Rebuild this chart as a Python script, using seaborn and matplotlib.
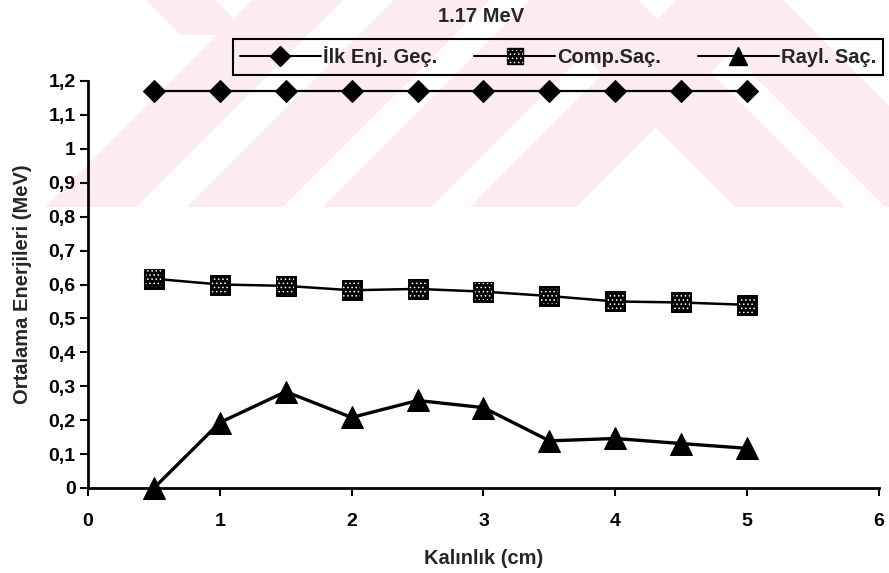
import matplotlib
matplotlib.use("Agg")
import matplotlib.pyplot as plt
from matplotlib.patches import Polygon, Rectangle
from matplotlib.lines import Line2D
from matplotlib.legend_handler import HandlerTuple
import seaborn as sns
import pandas as pd

# Thickness values (cm) and mean energies (MeV)
kalinlik = [0.5, 1.0, 1.5, 2.0, 2.5, 3.0, 3.5, 4.0, 4.5, 5.0]
ilk_enj = [1.17, 1.17, 1.17, 1.17, 1.17, 1.17, 1.17, 1.17, 1.17, 1.17]
comp_sac = [0.617, 0.600, 0.596, 0.583, 0.587, 0.579, 0.566, 0.550, 0.547, 0.540]
rayl_sac = [0.0, 0.193, 0.284, 0.208, 0.258, 0.237, 0.139, 0.146, 0.131, 0.117]

series_names = ["İlk Enj. Geç.", "Comp.Saç.", "Rayl. Saç."]
x_ticks = [0, 1, 2, 3, 4, 5, 6]
y_ticks = [0, 0.1, 0.2, 0.3, 0.4, 0.5, 0.6, 0.7, 0.8, 0.9, 1.0, 1.1, 1.2]
y_tick_labels = ["0", "0,1", "0,2", "0,3", "0,4", "0,5", "0,6", "0,7", "0,8", "0,9", "1", "1,1", "1,2"]

sns.set_style("ticks")
plt.rcParams["font.family"] = ["Liberation Sans", "DejaVu Sans"]
plt.rcParams["font.weight"] = "bold"
plt.rcParams["hatch.linewidth"] = 0.6

W, H = 889, 573
fig = plt.figure(figsize=(W / 100, H / 100), dpi=100)

# Light red chevron watermark behind the chart (pixel coordinates)
bg = fig.add_axes([0, 0, 1, 1], zorder=0)
bg.set_xlim(0, W)
bg.set_ylim(H, 0)
bg.axis("off")
pink = "#fdecef"
clip = Rectangle((0, 0), W, 207, transform=bg.transData, facecolor="none", edgecolor="none")
bg.add_patch(clip)
bands_up = [(45, 136), (187, 283), (323, 431), (470, 576)]
bands_down = [(735, 845), (885, 990)]
polys = []
for a, b in bands_up:
    polys.append([(a, 207), (b, 207), (b + 207, 0), (a + 207, 0)])
for a, b in bands_down:
    polys.append([(a, 207), (b, 207), (b - 207, 0), (a - 207, 0)])
polys.append([(146, 0), (215, 0), (250, 35), (181, 35)])
for p in polys:
    poly = Polygon(p, closed=True, facecolor=pink, edgecolor="none")
    bg.add_patch(poly)
    poly.set_clip_path(clip)

# Main chart
ax = fig.add_axes([88 / W, 1 - 488 / H, (879 - 88) / W, (488 - 81) / H], zorder=1)
ax.set_facecolor("none")

df = pd.DataFrame({"x": kalinlik, "ilk": ilk_enj, "comp": comp_sac, "rayl": rayl_sac})

sns.lineplot(data=df, x="x", y="ilk", ax=ax, color="black", lw=1.6, marker="D",
             markersize=11, markeredgecolor="black", markerfacecolor="black",
             zorder=3, clip_on=False)
sns.lineplot(data=df, x="x", y="comp", ax=ax, color="black", lw=1.8, marker="s",
             markersize=14, markeredgecolor="black", markerfacecolor="black",
             zorder=3, clip_on=False)
sns.lineplot(data=df, x="x", y="rayl", ax=ax, color="black", lw=2.4, marker="^",
             markersize=16, markeredgecolor="black", markerfacecolor="black",
             zorder=3, clip_on=False)
# dotted texture on the square markers
dots = ax.scatter(df["x"], df["comp"], marker="s", s=12 ** 2, facecolor="none",
                  edgecolor="white", linewidth=0, hatch="....", zorder=4)

ax.set_xlim(0, 6)
ax.set_ylim(0, 1.2)
ax.set_xticks(x_ticks)
ax.set_xticklabels([str(t) for t in x_ticks])
ax.set_yticks(y_ticks)
ax.set_yticklabels(y_tick_labels)
ax.tick_params(axis="both", direction="out", length=6, width=1.5, labelsize=14, colors="black")
ax.tick_params(axis="x", pad=12)
ax.tick_params(axis="y", pad=3)
for lab in ax.get_xticklabels() + ax.get_yticklabels():
    lab.set_fontweight("bold")
sns.despine(ax=ax)
for s in ("left", "bottom"):
    ax.spines[s].set_linewidth(2)
    ax.spines[s].set_color("black")
    ax.spines[s].set_zorder(2)

ax.set_xlabel("Kalınlık (cm)", fontsize=14.5, fontweight="bold", labelpad=14)
ax.set_ylabel("Ortalama Enerjileri (MeV)", fontsize=14.5, fontweight="bold", labelpad=12)

fig.text(481 / W, 1 - 17 / H, "1.17 MeV", ha="center", va="center", fontsize=14.5, fontweight="bold")

h_ilk = Line2D([], [], color="black", lw=1.5, marker="D", markersize=10, markerfacecolor="black")
h_comp = Line2D([], [], color="black", lw=1.5, marker="s", markersize=12, markerfacecolor="black")
h_rayl = Line2D([], [], color="black", lw=1.5, marker="^", markersize=13, markerfacecolor="black")
leg = ax.legend([h_ilk, (h_comp, dots), h_rayl], series_names, ncol=3, loc="center", mode="expand",
                bbox_to_anchor=(233 / W, 1 - 77 / H, (883 - 233) / W, 40 / H),
                bbox_transform=fig.transFigure, frameon=True, fancybox=False,
                edgecolor="black", facecolor="none", framealpha=1, fontsize=14.5,
                handlelength=4.0, handletextpad=0.1, borderpad=0.35, borderaxespad=0,
                numpoints=1, scatterpoints=1,
                handler_map={tuple: HandlerTuple(ndivide=1, pad=0)})
leg.get_frame().set_linewidth(1.5)
for t in leg.get_texts():
    t.set_fontweight("bold")

fig.savefig("out.png", dpi=100)
